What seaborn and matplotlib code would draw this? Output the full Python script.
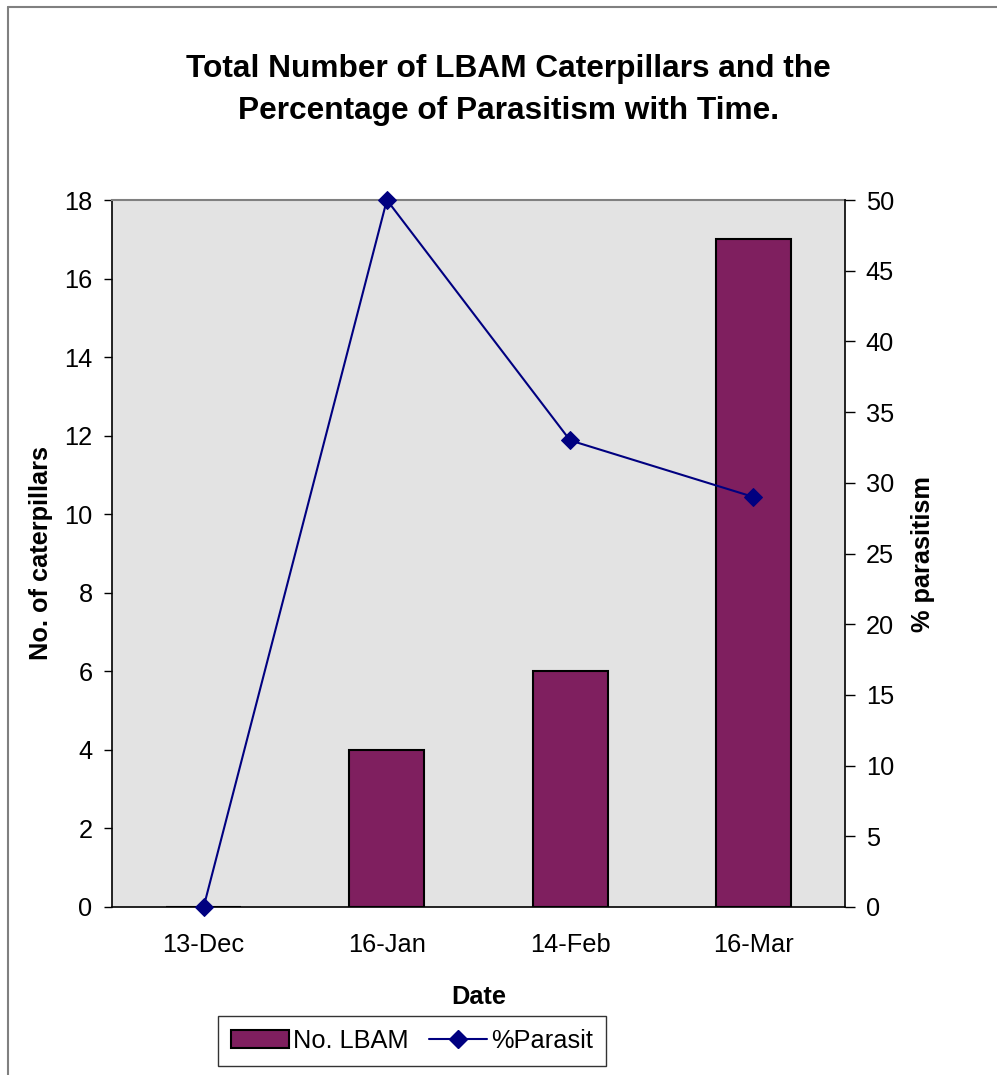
import numpy as np
import pandas as pd
import seaborn as sns
import matplotlib
matplotlib.use("Agg")
import matplotlib.pyplot as plt
from matplotlib.lines import Line2D
from matplotlib.patches import Patch

# Survey dates and counts
dates = ["13-Dec", "16-Jan", "14-Feb", "16-Mar"]
n_lbam = [0, 4, 6, 17]
pct_parasit = [0, 50, 33, 29]

left_ticks = list(range(0, 19, 2))
right_ticks = list(range(0, 51, 5))

sns.set_style("white")
plt.rcParams["font.family"] = ["Liberation Sans", "DejaVu Sans"]
plt.rcParams.update({
    "text.color": "black",
    "axes.labelcolor": "black",
    "xtick.color": "black",
    "ytick.color": "black",
})

BAR = "#7F1F5F"
LINE = "#000080"
BG = "#E3E3E3"
FS = 18.3

fig = plt.figure(figsize=(9.97, 10.75), dpi=100)
ax = fig.add_axes([112 / 997, 1 - 907 / 1075, 733 / 997, 707 / 1075])
ax.set_facecolor(BG)

df = pd.DataFrame({"date": dates, "n": n_lbam, "pct": pct_parasit})
sns.barplot(data=df, x="date", y="n", ax=ax, color=BAR, saturation=1,
            width=0.41, edgecolor="black", linewidth=1.5, zorder=2)

ax.set_xlim(-0.5, 3.5)
ax.set_ylim(0, 18)
ax.set_yticks(left_ticks)
ax.set_yticklabels([str(t) for t in left_ticks], fontsize=FS)

# Category boundaries carry the tick marks; labels sit at centres
ax.set_xticks(np.arange(-0.5, 4, 1.0))
ax.set_xticklabels([])
ax.set_xticks(np.arange(len(dates)), minor=True)
ax.set_xticklabels(dates, minor=True, fontsize=FS)
ax.tick_params(axis="x", which="major", direction="inout", length=16, width=1, color="black")
ax.tick_params(axis="x", which="minor", length=0, pad=19)
ax.tick_params(axis="y", direction="out", length=6, width=1, color="black", pad=8, left=True)

ax.set_xlabel("Date", fontsize=FS, fontweight="bold", labelpad=20)
ax.set_ylabel("No. of caterpillars", fontsize=FS, fontweight="bold", labelpad=8)

for side in ["left", "bottom"]:
    ax.spines[side].set_color("black")
    ax.spines[side].set_linewidth(1.2)
ax.spines["top"].set_color("#808080")
ax.spines["top"].set_linewidth(1.5)
ax.spines["right"].set_visible(False)

ax2 = ax.twinx()
sns.lineplot(x=np.arange(len(dates)), y=pct_parasit, ax=ax2, color=LINE,
             linewidth=1.5, marker="D", markersize=9, markeredgecolor=LINE,
             zorder=3, clip_on=False)
ax2.set_ylim(0, 50)
ax2.set_xlim(-0.5, 3.5)
ax2.set_yticks(right_ticks)
ax2.set_yticklabels([str(t) for t in right_ticks], fontsize=FS)
ax2.tick_params(axis="y", direction="out", length=7, width=1, color="black", pad=8, right=True)
ax2.set_ylabel("% parasitism", fontsize=FS, fontweight="bold", labelpad=12)
for side in ["left", "bottom", "top"]:
    ax2.spines[side].set_visible(False)
ax2.spines["right"].set_color("black")
ax2.spines["right"].set_linewidth(1.2)

fig.text(0.51, 1 - 90 / 1075,
         "Total Number of LBAM Caterpillars and the\nPercentage of Parasitism with Time.",
         ha="center", va="center", fontsize=22.8, fontweight="bold", linespacing=1.55)

handles = [
    Patch(facecolor=BAR, edgecolor="black", linewidth=1.5),
    Line2D([0], [0], color=LINE, linewidth=1.5, marker="D", markersize=9),
]
leg = fig.legend(handles, ["No. LBAM", "%Parasit"], loc="center",
                 bbox_to_anchor=(412 / 997, 1 - 1041 / 1075), ncol=2,
                 fontsize=FS, frameon=True, fancybox=False, handlelength=2.3,
                 handletextpad=0.15, columnspacing=0.8, borderpad=0.5)
leg.get_frame().set_edgecolor("black")
leg.get_frame().set_linewidth(1.0)

# Chart area outline (left and top edges)
fig.add_artist(Line2D([8 / 997, 8 / 997], [0, 1 - 7 / 1075], transform=fig.transFigure,
                      color="#808080", linewidth=1.5))
fig.add_artist(Line2D([8 / 997, 1], [1 - 7 / 1075, 1 - 7 / 1075], transform=fig.transFigure,
                      color="#808080", linewidth=1.5))

fig.savefig("out.png", dpi=100, facecolor="white")
